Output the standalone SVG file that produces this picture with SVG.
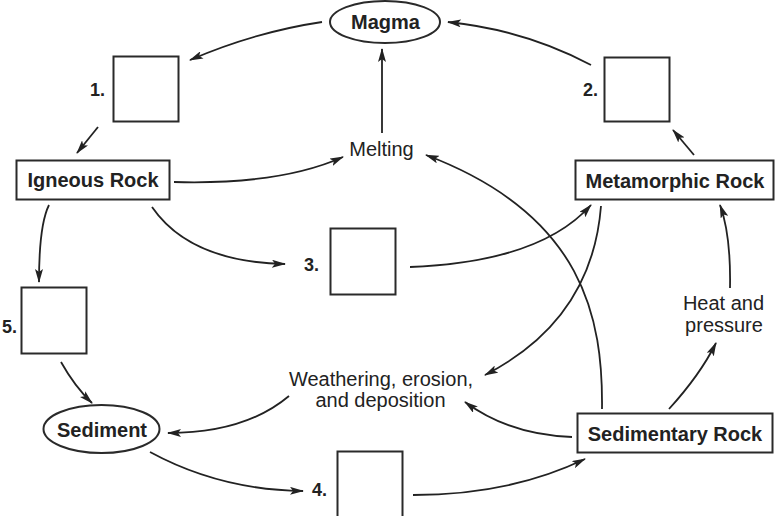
<svg xmlns="http://www.w3.org/2000/svg" width="775" height="516" viewBox="0 0 775 516">
<style>
.box{fill:#fff;stroke:#2a2a2a;stroke-width:2}
.lbl{font-family:"Liberation Sans",Arial,sans-serif;font-size:20px;font-weight:bold;fill:#222;text-anchor:middle}
.txt{font-family:"Liberation Sans",Arial,sans-serif;font-size:20px;fill:#222;text-anchor:middle}
.num{font-family:"Liberation Sans",Arial,sans-serif;font-size:18px;font-weight:bold;fill:#222;text-anchor:end}
.arr{fill:none;stroke:#222;stroke-width:1.8;marker-end:url(#ah)}
</style>
<defs>
<marker id="ah" viewBox="0 0 14 8" markerWidth="14" markerHeight="8" markerUnits="userSpaceOnUse" refX="13" refY="4" orient="auto">
<path d="M0,0 L14,4 L0,8 L3,4 z" fill="#222"/>
</marker>
</defs>
<rect width="775" height="516" fill="#fff"/>
<g id="connectors">
<path class="arr" d="M322,22 Q255,32 190,60"/>
<path class="arr" d="M98,127 L77,153"/>
<path class="arr" d="M174,182 Q280,185 343,157"/>
<path class="arr" d="M382,133 L382,49"/>
<path class="arr" d="M591,65 Q525,30 448,22"/>
<path class="arr" d="M694,155 L673,130"/>
<path class="arr" d="M152,207 Q190,262 285,264"/>
<path class="arr" d="M410,267 Q540,262 591,205"/>
<path class="arr" d="M601,206 Q592,320 485,375"/>
<path class="arr" d="M602,409 C603,320 585,215 426,155"/>
<path class="arr" d="M669,409 Q700,375 716,343"/>
<path class="arr" d="M730,288 Q731,235 720,205"/>
<path class="arr" d="M572,437 Q510,435 465,402"/>
<path class="arr" d="M289,396 Q245,433 168,433"/>
<path class="arr" d="M49,205 Q39,225 39,282"/>
<path class="arr" d="M61,362 Q75,387 92,403"/>
<path class="arr" d="M150,452 Q220,490 303,491"/>
<path class="arr" d="M413,495 Q510,495 585,459"/>
</g>
<g id="magma"><ellipse class="box" cx="385" cy="22" rx="55" ry="21"/><text class="lbl" x="385.5" y="29">Magma</text></g>
<g id="box1"><rect class="box" x="113.5" y="56.5" width="65" height="65"/><text class="num" x="105" y="96">1.</text></g>
<g id="box2"><rect class="box" x="604.5" y="57.5" width="65" height="64"/><text class="num" x="598" y="96">2.</text></g>
<g id="igneous"><rect class="box" x="16.5" y="160.5" width="153" height="39"/><text class="lbl" x="93" y="186.5">Igneous Rock</text></g>
<g id="metamorphic"><rect class="box" x="575.5" y="160.5" width="198" height="39"/><text class="lbl" x="675" y="187.5">Metamorphic Rock</text></g>
<g id="melting"><text class="txt" x="381.5" y="156">Melting</text></g>
<g id="box3"><rect class="box" x="330.5" y="228.5" width="65" height="66"/><text class="num" x="319" y="271">3.</text></g>
<g id="heat"><text class="txt" x="723.5" y="310">Heat and</text><text class="txt" x="724" y="332">pressure</text></g>
<g id="box5"><rect class="box" x="21.5" y="287.5" width="65" height="66"/><text class="num" x="17" y="333">5.</text></g>
<g id="weathering"><text class="txt" x="381" y="386">Weathering, erosion,</text><text class="txt" x="380.5" y="407">and deposition</text></g>
<g id="sediment"><ellipse class="box" cx="101.5" cy="429" rx="58" ry="24"/><text class="lbl" x="102" y="437">Sediment</text></g>
<g id="sedimentary"><rect class="box" x="577.5" y="413.5" width="195" height="39"/><text class="lbl" x="675" y="441">Sedimentary Rock</text></g>
<g id="box4"><rect class="box" x="337.5" y="451.5" width="65" height="68"/><text class="num" x="327" y="496">4.</text></g>
</svg>
